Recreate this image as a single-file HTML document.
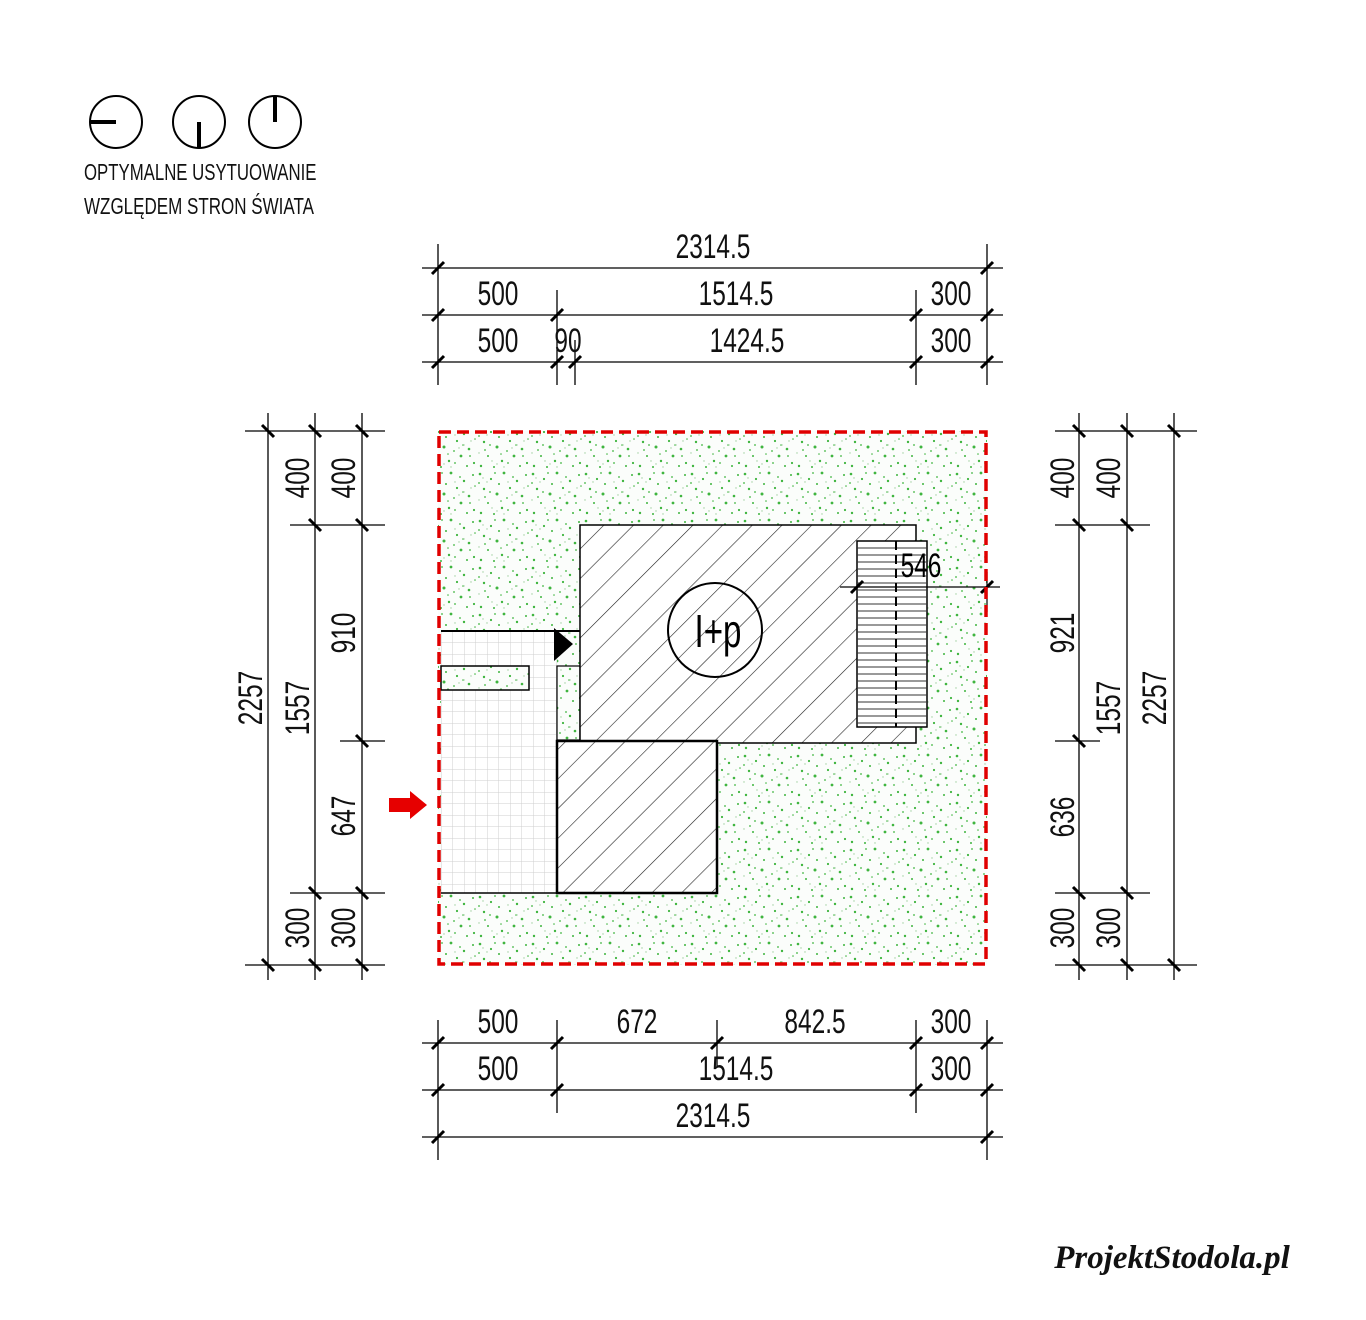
<!DOCTYPE html>
<html><head><meta charset="utf-8"><style>html,body{margin:0;padding:0;background:#fff}svg{display:block}</style></head>
<body>
<svg width="1366" height="1320" viewBox="0 0 1366 1320" xmlns="http://www.w3.org/2000/svg" font-family="Liberation Sans, sans-serif">
<defs>
<pattern id="grass" width="53" height="47" patternUnits="userSpaceOnUse">
<rect width="53" height="47" fill="#fbfdfb"/>
<g fill="#3fb53f">
<circle cx="3" cy="4" r="1.3"/><circle cx="14" cy="9" r="1.1"/><circle cx="27" cy="3" r="1.4"/><circle cx="40" cy="11" r="1.2"/><circle cx="49" cy="5" r="1"/>
<circle cx="7" cy="19" r="1.2"/><circle cx="20" cy="24" r="1.5"/><circle cx="33" cy="18" r="1.1"/><circle cx="45" cy="26" r="1.3"/><circle cx="11" cy="33" r="1"/>
<circle cx="25" cy="38" r="1.2"/><circle cx="37" cy="33" r="1.4"/><circle cx="50" cy="40" r="1.1"/><circle cx="4" cy="43" r="1.2"/><circle cx="17" cy="44" r="1"/>
<circle cx="30" cy="28" r="0.9"/><circle cx="43" cy="43" r="1"/><circle cx="8" cy="27" r="0.9"/><circle cx="22" cy="14" r="1"/><circle cx="36" cy="7" r="0.9"/>
<circle cx="18" cy="3" r="0.9"/><circle cx="46" cy="33" r="0.9"/><circle cx="31" cy="40" r="0.9"/><circle cx="13" cy="22" r="0.9"/><circle cx="39" cy="22" r="0.8"/><circle cx="2" cy="13" r="0.9"/><circle cx="24" cy="31" r="0.8"/><circle cx="51" cy="16" r="0.8"/>
</g>
<g fill="#9fcf9f">
<circle cx="10" cy="12" r="0.7"/><circle cx="31" cy="12" r="0.7"/><circle cx="47" cy="18" r="0.7"/><circle cx="15" cy="38" r="0.7"/><circle cx="40" cy="22" r="0.7"/><circle cx="2" cy="30" r="0.7"/><circle cx="27" cy="44" r="0.7"/><circle cx="6" cy="8" r="0.7"/><circle cx="35" cy="25" r="0.7"/><circle cx="20" cy="41" r="0.7"/>
</g>
</pattern>
<pattern id="hatch" width="21" height="21" patternUnits="userSpaceOnUse" patternTransform="rotate(45)">
<line x1="0" y1="0" x2="0" y2="21" stroke="#222" stroke-width="1.2"/>
</pattern>
<pattern id="grid" width="11.5" height="11.5" patternUnits="userSpaceOnUse" x="441" y="631">
<rect width="11.5" height="11.5" fill="#fff"/>
<path d="M0 0H11.5M0 0V11.5" stroke="#cfcfcf" stroke-width="1"/>
</pattern>
</defs>

<g stroke="#000" stroke-width="2" fill="none">
<circle cx="116" cy="122" r="26"/><circle cx="199" cy="122" r="26"/><circle cx="275" cy="122" r="26"/>
</g>
<g stroke="#000" stroke-width="4">
<line x1="90" y1="122" x2="116" y2="122"/><line x1="199" y1="122" x2="199" y2="148"/><line x1="275" y1="96" x2="275" y2="122"/>
</g>
<g font-size="23" fill="#111">
<text transform="translate(84,180) scale(0.73,1)">OPTYMALNE USYTUOWANIE</text>
<text transform="translate(84,214) scale(0.74,1)">WZGLĘDEM STRON ŚWIATA</text>
</g>

<rect x="438" y="431" width="549" height="534" fill="url(#grass)"/>
<rect x="441" y="631" width="116" height="262" fill="url(#grid)"/>
<rect x="441" y="666" width="88" height="24" fill="url(#grass)" stroke="#000" stroke-width="1.5"/>
<rect x="557" y="666" width="23" height="74" fill="url(#grass)" stroke="#000" stroke-width="1.2"/>
<line x1="441" y1="631" x2="580" y2="631" stroke="#000" stroke-width="2"/>
<line x1="441" y1="893" x2="557" y2="893" stroke="#000" stroke-width="1.5"/>
<rect x="580" y="525" width="336" height="218" fill="#fff"/>
<rect x="580" y="525" width="336" height="218" fill="url(#hatch)" stroke="#000" stroke-width="1.5"/>
<rect x="557" y="741" width="160" height="152" fill="#fff"/>
<rect x="557" y="741" width="160" height="152" fill="url(#hatch)" stroke="#000" stroke-width="2.5"/>
<polygon points="554,628 573,644 554,661" fill="#000"/>
<rect x="857" y="541" width="70" height="186" fill="#fff" stroke="#000" stroke-width="1.5"/>
<g stroke="#333" stroke-width="1">
<path d="M857 548H927M857 555H927M857 562H927M857 569H927M857 576H927M857 583H927M857 590H927M857 597H927M857 604H927M857 611H927M857 618H927M857 625H927M857 632H927M857 639H927M857 646H927M857 653H927M857 660H927M857 667H927M857 674H927M857 681H927M857 688H927M857 695H927M857 702H927M857 709H927M857 716H927M857 723H927"/>
</g>
<line x1="896" y1="541" x2="896" y2="727" stroke="#000" stroke-width="2" stroke-dasharray="9,5"/>
<line x1="840" y1="587" x2="1000" y2="587" stroke="#000" stroke-width="1.2"/>
<line x1="851" y1="593" x2="863" y2="581" stroke="#000" stroke-width="3"/>
<line x1="981" y1="593" x2="993" y2="581" stroke="#000" stroke-width="3"/>
<line x1="987" y1="572" x2="987" y2="612" stroke="#000" stroke-width="1.2"/>
<text transform="translate(921,577) scale(0.72,1)" text-anchor="middle" font-size="34">546</text>
<circle cx="715" cy="630" r="47" fill="none" stroke="#000" stroke-width="2"/>
<text transform="translate(718,647) scale(0.72,1)" text-anchor="middle" font-size="46">I+p</text>
<rect x="439" y="432" width="547" height="532" fill="none" stroke="#e00000" stroke-width="3.5" stroke-dasharray="12,6"/>
<polygon points="389,798 410,798 410,791 427,805 410,819 410,812 389,812" fill="#e60000"/>

<g stroke="#000" stroke-width="1.3">
<path d="M422 268H1003M422 315H1003M422 362H1003"/>
<path d="M438 244V385M987 244V385M557 290V385M916 290V385M575 340V385"/>
<path d="M422 1043H1003M422 1090H1003M422 1137H1003"/>
<path d="M438 1020V1160M987 1020V1160M557 1020V1113M916 1020V1113M717 1020V1066"/>
<path d="M268 413V980M315 413V980M362 413V980"/>
<path d="M245 431H385M290 525H385M340 741H385M290 893H385M245 965H385"/>
<path d="M1079 413V980M1127 413V980M1174 413V980"/>
<path d="M1055 431H1197M1055 525H1150M1055 741H1100M1055 893H1150M1055 965H1197"/>
</g>
<g stroke="#000" stroke-width="3">
<path d="M432 274l12-12M981 274l12-12M432 321l12-12M551 321l12-12M910 321l12-12M981 321l12-12M432 368l12-12M551 368l12-12M569 368l12-12M910 368l12-12M981 368l12-12"/>
<path d="M432 1049l12-12M551 1049l12-12M711 1049l12-12M910 1049l12-12M981 1049l12-12M432 1096l12-12M551 1096l12-12M910 1096l12-12M981 1096l12-12M432 1143l12-12M981 1143l12-12"/>
<path d="M262 425l12 12M309 425l12 12M356 425l12 12M309 519l12 12M356 519l12 12M356 735l12 12M309 887l12 12M356 887l12 12M262 959l12 12M309 959l12 12M356 959l12 12"/>
<path d="M1073 425l12 12M1121 425l12 12M1168 425l12 12M1073 519l12 12M1121 519l12 12M1073 735l12 12M1073 887l12 12M1121 887l12 12M1073 959l12 12M1121 959l12 12M1168 959l12 12"/>
</g>

<g font-size="34" fill="#111" text-anchor="middle">
<text transform="translate(713,258) scale(0.72,1)">2314.5</text>
<text transform="translate(498,305) scale(0.72,1)">500</text>
<text transform="translate(736,305) scale(0.72,1)">1514.5</text>
<text transform="translate(951,305) scale(0.72,1)">300</text>
<text transform="translate(498,352) scale(0.72,1)">500</text>
<text transform="translate(568,352) scale(0.72,1)">90</text>
<text transform="translate(747,352) scale(0.72,1)">1424.5</text>
<text transform="translate(951,352) scale(0.72,1)">300</text>
<text transform="translate(498,1033) scale(0.72,1)">500</text>
<text transform="translate(637,1033) scale(0.72,1)">672</text>
<text transform="translate(815,1033) scale(0.72,1)">842.5</text>
<text transform="translate(951,1033) scale(0.72,1)">300</text>
<text transform="translate(498,1080) scale(0.72,1)">500</text>
<text transform="translate(736,1080) scale(0.72,1)">1514.5</text>
<text transform="translate(951,1080) scale(0.72,1)">300</text>
<text transform="translate(713,1127) scale(0.72,1)">2314.5</text>
<text transform="translate(262,698) rotate(-90) scale(0.72,1)">2257</text>
<text transform="translate(309,478) rotate(-90) scale(0.72,1)">400</text>
<text transform="translate(309,708) rotate(-90) scale(0.72,1)">1557</text>
<text transform="translate(309,928) rotate(-90) scale(0.72,1)">300</text>
<text transform="translate(355,478) rotate(-90) scale(0.72,1)">400</text>
<text transform="translate(355,633) rotate(-90) scale(0.72,1)">910</text>
<text transform="translate(355,816) rotate(-90) scale(0.72,1)">647</text>
<text transform="translate(355,928) rotate(-90) scale(0.72,1)">300</text>
<text transform="translate(1074,478) rotate(-90) scale(0.72,1)">400</text>
<text transform="translate(1074,633) rotate(-90) scale(0.72,1)">921</text>
<text transform="translate(1074,817) rotate(-90) scale(0.72,1)">636</text>
<text transform="translate(1074,928) rotate(-90) scale(0.72,1)">300</text>
<text transform="translate(1120,478) rotate(-90) scale(0.72,1)">400</text>
<text transform="translate(1120,708) rotate(-90) scale(0.72,1)">1557</text>
<text transform="translate(1120,928) rotate(-90) scale(0.72,1)">300</text>
<text transform="translate(1166,698) rotate(-90) scale(0.72,1)">2257</text>
</g>

<text x="1172" y="1268" text-anchor="middle" font-family="Liberation Serif, serif" font-style="italic" font-weight="bold" font-size="33" fill="#111" transform="translate(0,0)">ProjektStodola.pl</text>
</svg>
</body></html>
